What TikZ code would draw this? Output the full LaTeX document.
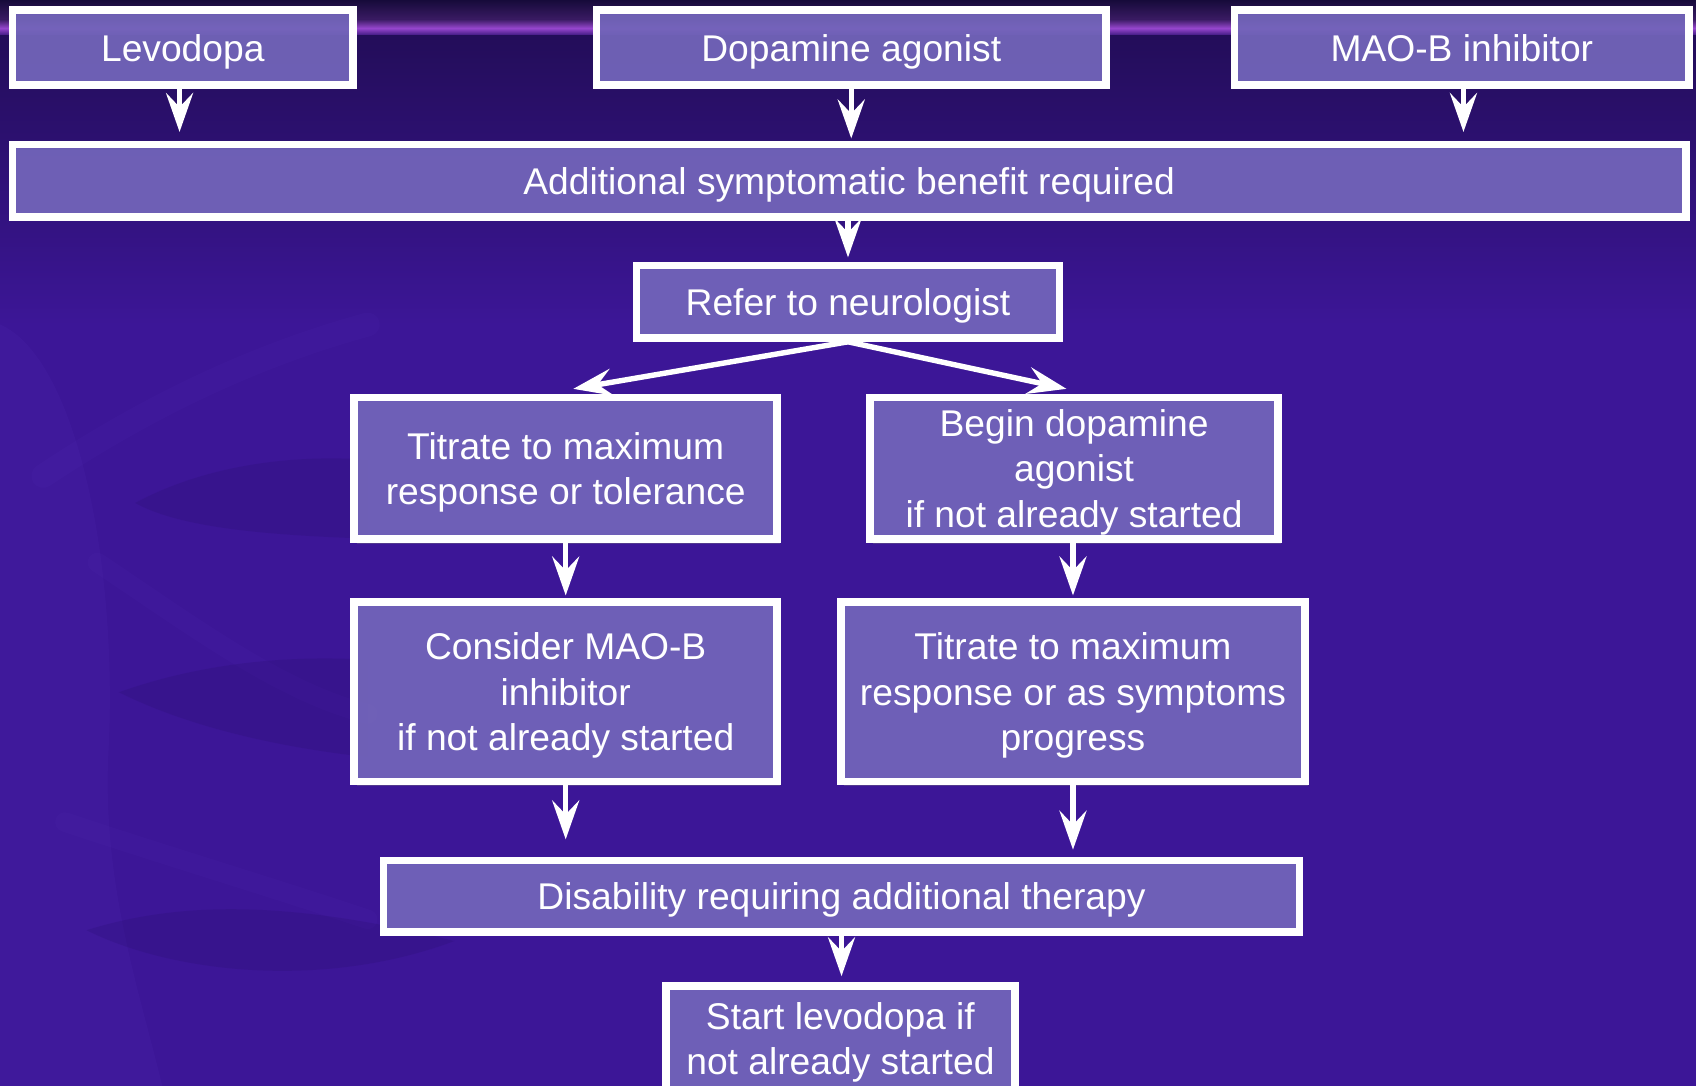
\documentclass[tikz,border=0pt]{standalone}
\usepackage{fontspec}
\setmainfont{Liberation Sans}
\usetikzlibrary{arrows.meta,calc,shadows}
\definecolor{bgmain}{RGB}{60,22,151}
\definecolor{bgdark}{RGB}{44,16,112}
\definecolor{bgtop}{RGB}{22,10,58}
\definecolor{glow}{RGB}{150,70,205}
\definecolor{streak}{RGB}{92,60,196}
\definecolor{lens}{RGB}{40,14,110}
\definecolor{boxfill}{RGB}{114,100,188}
\begin{document}
\begin{tikzpicture}[x=1pt,y=-1pt,
  box/.style={rectangle, draw=white, line width=7pt, fill=boxfill, fill opacity=0.9,
    text opacity=1, text=white, inner sep=0pt, align=center, text depth=0pt,
    font=\fontsize{34.4}{42}\selectfont,
    drop shadow={opacity=0.35, shadow xshift=3pt, shadow yshift=-4pt}},
  arr/.style={draw=white, line width=5pt, -{Stealth[length=36pt, width=25pt, inset=13pt]}}
]
\useasboundingbox (0,0) rectangle (1568,1004);
\clip (0,0) rectangle (1568,1004);
% background
\fill[bgmain] (0,0) rectangle (1568,1004);
\shade[top color=bgtop, bottom color=bgtop!70!glow] (0,0) rectangle (1568,19);
\shade[top color=bgtop!70!glow, bottom color=bgdark, middle color=glow] (0,18) rectangle (1568,34);
\shade[top color=bgdark!80!black, bottom color=bgmain] (0,33) rectangle (1568,300);
% faint texture on the left
\fill[streak, opacity=0.10] (0,300) .. controls (70,330) and (110,520) .. (100,700)
  .. controls (95,820) and (130,920) .. (150,1004) -- (0,1004) -- cycle;
\begin{scope}[line cap=round]
\draw[streak, line width=22pt, opacity=0.08] (40,440) .. controls (130,380) and (230,330) .. (340,300);
\draw[streak, line width=18pt, opacity=0.07] (90,520) .. controls (180,580) and (260,640) .. (340,660);
\draw[streak, line width=18pt, opacity=0.07] (60,760) .. controls (150,790) and (250,820) .. (340,850);
\end{scope}
\fill[lens, opacity=0.22] (125,465) .. controls (190,430) and (270,420) .. (340,425)
  -- (340,498) .. controls (260,495) and (170,490) .. cycle;
\fill[lens, opacity=0.22] (110,640) .. controls (180,615) and (260,605) .. (340,610)
  -- (340,700) .. controls (250,690) and (170,670) .. cycle;
\fill[lens, opacity=0.22] (80,860) .. controls (160,835) and (260,830) .. (420,870)
  .. controls (300,915) and (160,900) .. cycle;
% nodes
\node[box, minimum width=315pt, minimum height=69pt] (lev) at (169,44) {Levodopa};
\node[box, minimum width=471pt, minimum height=69pt] (dop) at (787,44) {Dopamine agonist};
\node[box, minimum width=420pt, minimum height=69pt] (mao) at (1351.5,44) {MAO-B inhibitor};
\node[box, minimum width=1547pt, minimum height=67pt] (add) at (785,167) {Additional symptomatic benefit required};
\node[box, minimum width=391pt, minimum height=67pt] (ref) at (784,279) {Refer to neurologist};
\node[box, minimum width=391pt, minimum height=131pt] (tit1) at (523,433) {Titrate to maximum\\response or tolerance};
\node[box, minimum width=377pt, minimum height=131pt] (beg) at (993,433) {Begin dopamine\\agonist\\if not already started};
\node[box, minimum width=391pt, minimum height=166pt] (con) at (523,639.5) {Consider MAO-B\\inhibitor\\if not already started};
\node[box, minimum width=429pt, minimum height=166pt] (tit2) at (992,639.5) {Titrate to maximum\\response or as symptoms\\progress};
\node[box, minimum width=847pt, minimum height=66pt] (dis) at (778,828.5) {Disability requiring additional therapy};
\node[box, minimum width=323pt, minimum height=97pt] (sta) at (777,960) {Start levodopa if\\not already started};
% free ends
\coordinate (levend) at (166,122);
\coordinate (dopend) at (787,128);
\coordinate (maoend) at (1353,122);
\coordinate (conend) at (523,776);
% connectors
\draw[arr] (lev.south -| levend) -- (levend);
\draw[arr] (dop.south -| dopend) -- (dopend);
\draw[arr] (mao.south -| maoend) -- (maoend);
\draw[arr, shorten >=4pt] (ref.north |- add.south) -- (ref.north);
\draw[arr] (ref.south) -- ($(tit1.north)+(7,-4.5)$);
\draw[arr] (ref.south) -- ($(beg.north)+(-7,-4.5)$);
\draw[arr, shorten >=2.5pt] (tit1.south) -- (con.north);
\draw[arr, shorten >=2.5pt] (tit2.north |- beg.south) -- (tit2.north);
\draw[arr] (con.south) -- (conend);
\draw[arr, shorten >=6.5pt] (tit2.south) -- (tit2.south |- dis.north);
\draw[arr, shorten >=5.5pt] (dis.south) -- (dis.south |- sta.north);
\end{tikzpicture}
\end{document}
